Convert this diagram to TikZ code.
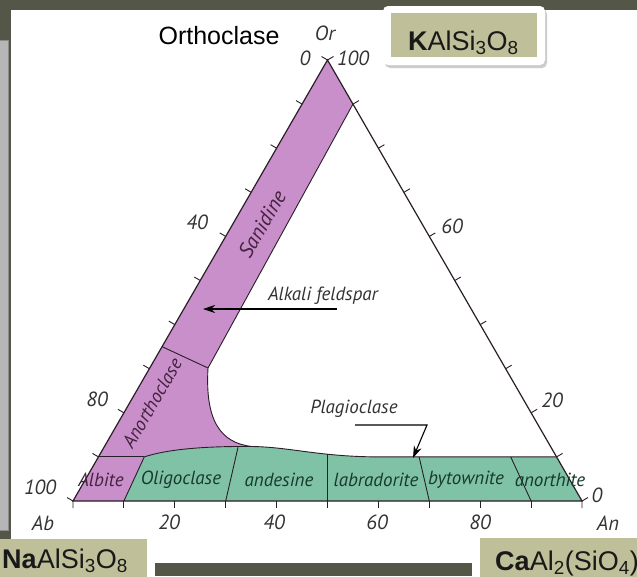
\documentclass[tikz,border=0pt]{standalone}
\usepackage{fontspec}
\setmainfont{Liberation Sans}
\newfontfamily\labfont{PT Sans}
\usetikzlibrary{arrows.meta,shadows}
\definecolor{bgc}{HTML}{545648}
\definecolor{stripc}{HTML}{B6B6B6}
\definecolor{khaki}{HTML}{BFBF99}
\definecolor{alk}{HTML}{C98FCB}
\definecolor{plag}{HTML}{80C2A6}
\definecolor{ink}{HTML}{2A1E28}
\definecolor{numc}{HTML}{333333}
\definecolor{alkt}{HTML}{46223F}
\definecolor{plagt}{HTML}{163A2E}
\tikzset{
  edge/.style={ink, line width=1.2pt},
  bound/.style={ink, line width=0.9pt},
  tk/.style={ink, line width=0.9pt},
  num/.style={font=\labfont\itshape\fontsize{20.5}{20.5}\selectfont, text=numc, inner sep=0pt},
  reg/.style={font=\labfont\itshape\fontsize{19}{19}\selectfont, inner sep=0pt},
  note/.style={font=\labfont\itshape\fontsize{19}{19}\selectfont, text=numc, inner sep=0pt},
  ptr/.style={-{Stealth[length=12pt, width=8pt]}, line width=1.1pt, black},
  formula/.style={font=\fontsize{27}{27}\selectfont, text=black!90, inner sep=0pt, anchor=base west},
  outer/.style={fill=white, rounded corners=5pt, inner sep=0pt},
  inner/.style={fill=khaki, inner sep=0pt},
}
% point of the diagram from the An and Or fractions
\newcommand{\Tpos}[2]{({73+509*(#1)+254.5*(#2)}, {501-441*(#2)})}

\begin{document}
\begin{tikzpicture}[x=1pt, y=-1pt]
  \clip (0,0) rectangle (637,576);
  \fill[bgc] (0,0) rectangle (637,576);
  \fill[white] (11,10) rectangle (640,563);
  \filldraw[fill=stripc, draw=black!45] (-2,40) rectangle (8,530);

  \coordinate (ab) at (73,501);
  \coordinate (an) at (582,501);
  \coordinate (or) at (327.5,60);

  % alkali feldspar and plagioclase fields
  \fill[alk] (or) -- \Tpos{0.1}{0.9} -- (208,368) .. controls (205,420) and (220,443) .. (252,446.5)
    .. controls (200,446) and (165,450) .. \Tpos{0.09}{0.1} -- \Tpos{0.1}{0} -- (ab) -- cycle;
  \fill[plag] \Tpos{0.09}{0.1} .. controls (165,450) and (200,446) .. (252,446.5)
    .. controls (290,447) and (320,456.9) .. (380,456.9) -- \Tpos{0.9}{0.1} -- (an) -- \Tpos{0.1}{0} -- cycle;

  \draw[bound] \Tpos{0.1}{0.9} -- (208,368) .. controls (205,420) and (220,443) .. (252,446.5)
    .. controls (290,447) and (320,456.9) .. (380,456.9) -- \Tpos{0.9}{0.1};
  \draw[bound] \Tpos{0.09}{0.1} .. controls (165,450) and (200,446) .. (252,446.5);
  \draw[bound] \Tpos{0}{0.1} -- \Tpos{0.09}{0.1};
  \draw[bound] \Tpos{0}{0.35} -- (208,368);
  \draw[bound] \Tpos{0.1}{0} -- \Tpos{0.09}{0.1};
  \draw[bound] \Tpos{0.3}{0} -- (238,447.3);
  \draw[bound] \Tpos{0.5}{0} -- (327.5,454.2);
  \foreach \r in {0.7,0.9}
    \draw[bound] \Tpos{\r}{0} -- \Tpos{0.9*\r}{0.1};

  \draw[edge] (ab) -- (an) -- (or) -- cycle;
  \foreach \t in {1,...,9} {
    \draw[tk] \Tpos{\t/10}{0} -- ++(0,7);
    \draw[tk] \Tpos{0}{1-\t/10} -- ++(-6,-3.5);
    \draw[tk] \Tpos{1-\t/10}{\t/10} -- ++(6,-3.5);
  }
  \draw[tk] (ab) -- ++(0,7) (ab) -- ++(-6,-3.5);
  \draw[tk] (an) -- ++(0,7) (an) -- ++(6,-3.5);
  \draw[tk] (or) -- ++(-6,-3.5) (or) -- ++(6,-3.5);

  % scale numbers
  \node[num] (orl) at (325,33) {Or};
  \node[num] (o0) at (305,58) {0};
  \node[num] (o100) at (353,58) {100};
  \node[num] (l40) at (197,222) {40};
  \node[num] (l80) at (97,399) {80};
  \node[num] (l100) at (40,487) {100};
  \node[num] (abl) at (43,523) {Ab};
  \node[num] (b20) at (169,522) {20};
  \node[num] (b40) at (274,522) {40};
  \node[num] (b60) at (377,522) {60};
  \node[num] (b80) at (480,522) {80};
  \node[num] (anl) at (608,523) {An};
  \node[num] (a0) at (597,495) {0};
  \node[num] (r60) at (452,226) {60};
  \node[num] (r20) at (552,400) {20};

  % field names
  \node[reg, text=alkt, rotate=60, font=\labfont\itshape\fontsize{21}{21}\selectfont] (san) at (262,224) {Sanidine};
  \node[reg, text=alkt, rotate=60] (ano) at (152,403) {Anorthoclase};
  \node[reg, text=alkt] (alb) at (101,480) {Albite};
  \node[reg, text=plagt] (oli) at (181,480) {Oligoclase};
  \node[reg, text=plagt] (and) at (279,480) {andesine};
  \node[reg, text=plagt] (lab) at (376,480) {labradorite};
  \node[reg, text=plagt] (byt) at (466,480) {bytownite};
  \node[reg, text=plagt] (ant) at (550,480) {anorthite};

  \node[note] (alkl) at (323,296) {Alkali feldspar};
  \coordinate (af0) at (337,309);
  \coordinate (af1) at (203,309);
  \draw[ptr] (af0) -- (af1);
  \node[note] (plgl) at (354,409) {Plagioclase};
  \coordinate (pg0) at (355,425);
  \coordinate (pg1) at (427,425);
  \coordinate (pg2) at (413,458);
  \draw[ptr] (pg0) -- (pg1) -- (pg2);

  % formula boxes
  \node[font=\fontsize{25}{25}\selectfont, inner sep=0pt, anchor=base] (orth) at (219,44) {Orthoclase};
  \node[outer, drop shadow={shadow xshift=2pt, shadow yshift=-3pt, opacity=0.4}, minimum width=162pt, minimum height=59pt] (kbox) at (464,35.5) {};
  \node[inner, minimum width=146pt, minimum height=44pt] (kin) at (464,35) {};
  \node[formula] (kform) at (408,50) {\textbf{K}AlSi\textsubscript{3}O\textsubscript{8}};
  \fill[white] (11,531) rectangle (155,580);
  \fill[khaki] (-5,539) rectangle (147,580);
  \node[formula] (naform) at (2,568) {\textbf{Na}AlSi\textsubscript{3}O\textsubscript{8}};
  \node[outer, minimum width=180pt, minimum height=70pt, anchor=north west] (cabox) at (472,530) {};
  \fill[khaki] (480,538) rectangle (660,590);
  \node[formula] (caform) at (495,570) {\textbf{Ca}Al\textsubscript{2}(SiO\textsubscript{4})};
\end{tikzpicture}
\end{document}
